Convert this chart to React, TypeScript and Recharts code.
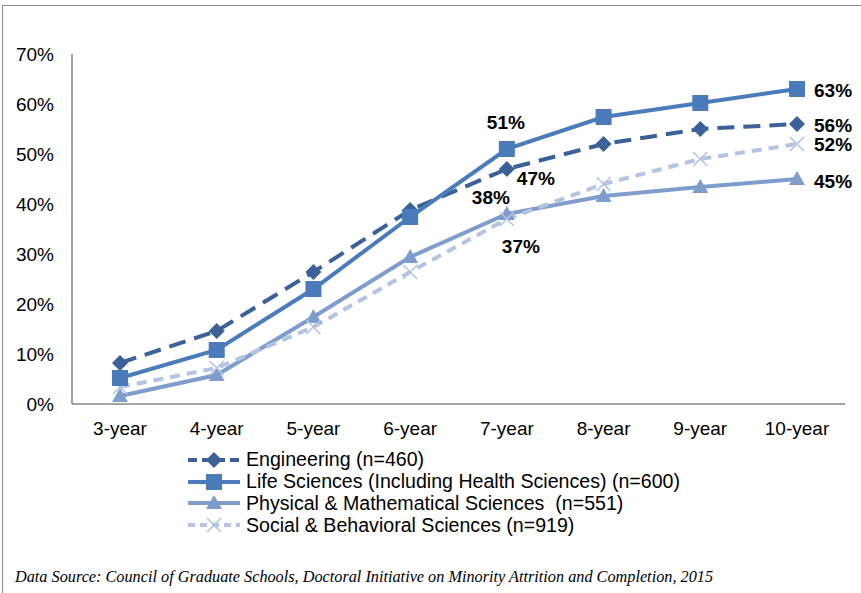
import React from 'react';
import { LineChart, Line, XAxis, YAxis, Legend, LabelList } from 'recharts';

const years = ['3-year', '4-year', '5-year', '6-year', '7-year', '8-year', '9-year', '10-year'];
const engineering = [8.2, 14.6, 26.4, 38.8, 47, 52, 55, 56];
const lifeSciences = [5.2, 10.8, 23, 37.4, 51, 57.4, 60.2, 63];
const physicalMath = [1.6, 5.8, 17.4, 29.4, 38, 41.6, 43.4, 45];
const socialBehavioral = [3.4, 7.2, 15.4, 26.4, 37, 44, 49, 52];
const yTicks = [0, 10, 20, 30, 40, 50, 60, 70];

const data = years.map((year, i) => ({
  year,
  eng: engineering[i],
  life: lifeSciences[i],
  phys: physicalMath[i],
  soc: socialBehavioral[i],
}));

const FONT = '"Liberation Sans", Arial, sans-serif';
const C_ENG = '#3C6198';
const C_LIFE = '#4A7CBC';
const C_PHYS = '#7E9DCD';
const C_SOC = '#B3C5E1';

const Diamond = ({ cx, cy, fill }: any) => (
  <path d={`M${cx},${cy - 8} L${cx + 8},${cy} L${cx},${cy + 8} L${cx - 8},${cy} Z`} fill={fill} />
);
const Square = ({ cx, cy, fill }: any) => <rect x={cx - 8} y={cy - 8} width={16} height={16} fill={fill} />;
const Triangle = ({ cx, cy, fill }: any) => (
  <path d={`M${cx},${cy - 8} L${cx + 8},${cy + 6} L${cx - 8},${cy + 6} Z`} fill={fill} />
);
const Cross = ({ cx, cy, stroke }: any) => (
  <path d={`M${cx - 7},${cy - 7} L${cx + 7},${cy + 7} M${cx + 7},${cy - 7} L${cx - 7},${cy + 7}`} stroke={stroke} strokeWidth={1.6} fill="none" />
);

// which points get a value label, and where it sits relative to the point
const labelSpots: Record<string, Record<number, { dx: number; dy: number; anchor: string }>> = {
  eng: { 4: { dx: 10, dy: 9, anchor: 'start' }, 7: { dx: 17, dy: 1, anchor: 'start' } },
  life: { 4: { dx: -1, dy: -27, anchor: 'middle' }, 7: { dx: 17, dy: 1, anchor: 'start' } },
  phys: { 4: { dx: -16, dy: -17, anchor: 'middle' }, 7: { dx: 17, dy: 2, anchor: 'start' } },
  soc: { 4: { dx: 14, dy: 27, anchor: 'middle' }, 7: { dx: 17, dy: 0, anchor: 'start' } },
};

const pointLabel = (key: string) => (props: any) => {
  const spot = labelSpots[key][props.index];
  if (!spot) return null;
  return (
    <text
      x={props.x + spot.dx}
      y={props.y + spot.dy}
      textAnchor={spot.anchor}
      dominantBaseline="central"
      fontFamily={FONT}
      fontSize={19}
      fontWeight="bold"
      fill="#000"
    >
      {Math.round(props.value)}%
    </text>
  );
};

const legendItems = [
  { name: 'Engineering (n=460)', color: C_ENG, dash: '9 5', Mark: Diamond },
  { name: 'Life Sciences (Including Health Sciences) (n=600)', color: C_LIFE, dash: undefined, Mark: Square },
  { name: 'Physical & Mathematical Sciences  (n=551)', color: C_PHYS, dash: undefined, Mark: Triangle },
  { name: 'Social & Behavioral Sciences (n=919)', color: C_SOC, dash: '7 5', Mark: Cross },
];

const LegendBox = () => (
  <div style={{ fontFamily: FONT, fontSize: 19.6, color: '#000' }}>
    {legendItems.map((it) => (
      <div key={it.name} style={{ display: 'flex', alignItems: 'center', height: 21.8 }}>
        <svg width={56} height={20} style={{ marginRight: 2 }}>
          <line x1={0} y1={10} x2={52} y2={10} stroke={it.color} strokeWidth={4} strokeDasharray={it.dash} />
          <it.Mark cx={26} cy={10} fill={it.color} stroke={it.color} />
        </svg>
        <span style={{ whiteSpace: 'pre' }}>{it.name}</span>
      </div>
    ))}
  </div>
);

export default function App() {
  return (
    <div style={{ position: 'fixed', left: 0, top: 0, width: 861, height: 593, background: '#fff', overflow: 'hidden' }}>
      <div style={{ position: 'absolute', left: 2, top: 5, right: -2, bottom: -2, borderLeft: '1.5px solid #8a8a8a', borderTop: '1.5px solid #8a8a8a' }} />
      <div style={{ position: 'absolute', left: 0, top: 0 }}>
        <LineChart width={861} height={560} data={data} margin={{ top: 54, right: 16, bottom: 126, left: 12 }}>
          <XAxis
            dataKey="year"
            axisLine={{ stroke: '#868686', strokeWidth: 1.5 }}
            tickLine={false}
            tickMargin={12}
            height={30}
            padding={{ left: 48, right: 48 }}
            tick={{ fontFamily: FONT, fontSize: 19, fill: '#000' }}
            interval={0}
          />
          <YAxis
            domain={[0, 70]}
            ticks={yTicks}
            width={60}
            axisLine={{ stroke: '#868686', strokeWidth: 1.5 }}
            tickLine={false}
            tickMargin={12}
            tickFormatter={(v: number) => `${v}%`}
            tick={{ fontFamily: FONT, fontSize: 19, fill: '#000' }}
          />
          <Legend
            layout="vertical"
            align="center"
            verticalAlign="middle"
            content={() => <LegendBox />}
            wrapperStyle={{ top: 449, left: 188, width: 520, height: 90 }}
          />
          <Line dataKey="phys" stroke={C_PHYS} strokeWidth={4} dot={<Triangle fill={C_PHYS} />} isAnimationActive={false}>
            <LabelList dataKey="phys" content={pointLabel('phys')} />
          </Line>
          <Line dataKey="soc" stroke={C_SOC} strokeWidth={4} strokeDasharray="10 7" dot={<Cross stroke={C_SOC} />} isAnimationActive={false}>
            <LabelList dataKey="soc" content={pointLabel('soc')} />
          </Line>
          <Line dataKey="eng" stroke={C_ENG} strokeWidth={4} strokeDasharray="17 9" dot={<Diamond fill={C_ENG} />} isAnimationActive={false}>
            <LabelList dataKey="eng" content={pointLabel('eng')} />
          </Line>
          <Line dataKey="life" stroke={C_LIFE} strokeWidth={4} dot={<Square fill={C_LIFE} />} isAnimationActive={false}>
            <LabelList dataKey="life" content={pointLabel('life')} />
          </Line>
        </LineChart>
      </div>
      <svg style={{ position: 'absolute', left: 0, top: 560 }} width={861} height={33}>
        <text x={15} y={22} fontFamily='"Liberation Serif", "Times New Roman", serif' fontStyle="italic" fontSize={16.5} textLength={698} lengthAdjust="spacingAndGlyphs" fill="#000">
          Data Source:  Council of Graduate Schools, Doctoral Initiative on Minority Attrition and Completion, 2015
        </text>
      </svg>
    </div>
  );
}
